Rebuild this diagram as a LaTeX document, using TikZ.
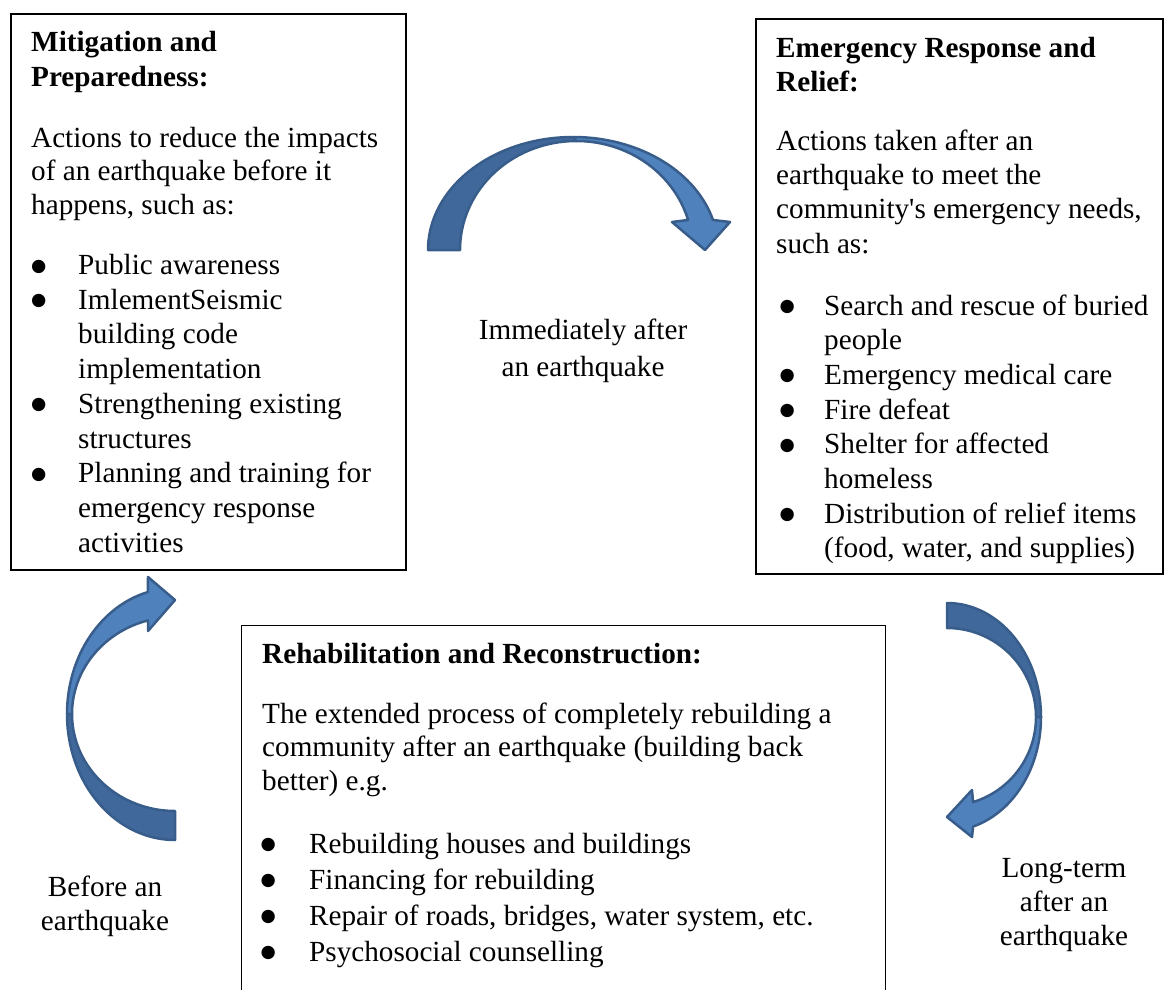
\documentclass[tikz,border=0pt]{standalone}
\usepackage{fontspec}
\setmainfont{Liberation Serif}[Ligatures=TeXOff]
\newfontfamily\bulfont{DejaVu Sans}
\definecolor{arrfront}{HTML}{4F81BD}
\definecolor{arrback}{HTML}{41689B}
\definecolor{arrline}{HTML}{385D8A}
\begin{document}
\begin{tikzpicture}[x=1pt,y=-1pt,
  txt/.style={font=\fontsize{29.2}{34}\selectfont, inner sep=0pt, anchor=base west},
  hd/.style={inner sep=0pt, anchor=base west, font=\fontsize{29.2}{34}\selectfont\bfseries},
  bul/.style={inner sep=0pt, anchor=base west, yshift=3.5pt, font=\bulfont\fontsize{17.5}{20}\selectfont},
  lbl/.style={font=\fontsize{29.2}{34}\selectfont, inner sep=0pt, anchor=base},
  boxthick/.style={draw=black, line width=2pt, inner sep=0pt, anchor=north west},
  boxthin/.style={draw=black, line width=1.1pt, inner sep=0pt, anchor=north west},
  backband/.style={fill=arrback, draw=arrline, line width=2.5pt, line join=round},
  frontband/.style={fill=arrfront, draw=arrline, line width=2.5pt, line join=round}]
\useasboundingbox (0,0) rectangle (1164,990);
\clip (0,0) rectangle (1164,990);

% ---------- boxes ----------
\node[boxthick, minimum width=395pt, minimum height=556pt] (mitbox) at (10,13) {};
\node[boxthick, minimum width=407pt, minimum height=555pt] (embox) at (755,18) {};
\node[boxthin, minimum width=644pt, minimum height=400pt] (rehbox) at (241,625) {};

% ---------- box 1 ----------
\node[hd] (m1) at (31,52) {Mitigation and};
\node[hd] (m2) at (31,86) {Preparedness:};
\node[txt] (m3) at (31,147) {Actions to reduce the impacts};
\node[txt] (m4) at (31,180.5) {of an earthquake before it};
\node[txt] (m5) at (31,214) {happens, such as:};
\node[bul] (mb1) at (31,274.5) {●};
\node[txt] (mt1) at (78,274.5) {Public awareness};
\node[bul] (mb2) at (31,309.2) {●};
\node[txt] (mt2) at (78,309.2) {ImlementSeismic};
\node[txt] (mt3) at (78,343.9) {building code};
\node[txt] (mt4) at (78,378.6) {implementation};
\node[bul] (mb3) at (31,413.3) {●};
\node[txt] (mt5) at (78,413.3) {Strengthening existing};
\node[txt] (mt6) at (78,448) {structures};
\node[bul] (mb4) at (31,482.7) {●};
\node[txt] (mt7) at (78,482.7) {Planning and training for};
\node[txt] (mt8) at (78,517.4) {emergency response};
\node[txt] (mt9) at (78,552.1) {activities};

% ---------- box 2 ----------
\node[hd] (e1) at (776,57.5) {Emergency Response and};
\node[hd] (e2) at (776,91.5) {Relief:};
\node[txt] (e3) at (776,150) {Actions taken after an};
\node[txt] (e4) at (776,184.3) {earthquake to meet the};
\node[txt] (e5) at (776,218.6) {community's emergency needs,};
\node[txt] (e6) at (776,253) {such as:};
\node[bul] (eb1) at (779.5,315) {●};
\node[txt] (et1) at (824,315) {Search and rescue of buried};
\node[txt] (et2) at (824,349.7) {people};
\node[bul] (eb2) at (779.5,384.4) {●};
\node[txt] (et3) at (824,384.4) {Emergency medical care};
\node[bul] (eb3) at (779.5,419.1) {●};
\node[txt] (et4) at (824,419.1) {Fire defeat};
\node[bul] (eb4) at (779.5,453.8) {●};
\node[txt] (et5) at (824,453.8) {Shelter for affected};
\node[txt] (et6) at (824,488.5) {homeless};
\node[bul] (eb5) at (779.5,523.2) {●};
\node[txt] (et7) at (824,523.2) {Distribution of relief items};
\node[txt] (et8) at (824,557.9) {(food, water, and supplies)};

% ---------- box 3 ----------
\node[hd] (r1) at (262,663) {Rehabilitation and Reconstruction:};
\node[txt] (r2) at (262,723) {The extended process of completely rebuilding a};
\node[txt] (r3) at (262,756.5) {community after an earthquake (building back};
\node[txt] (r4) at (262,790) {better) e.g.};
\node[bul] (rb1) at (260.5,853) {●};
\node[txt] (rt1) at (309,853) {Rebuilding houses and buildings};
\node[bul] (rb2) at (260.5,889) {●};
\node[txt] (rt2) at (309,889) {Financing for rebuilding};
\node[bul] (rb3) at (260.5,925) {●};
\node[txt] (rt3) at (309,925) {Repair of roads, bridges, water system, etc.};
\node[bul] (rb4) at (260.5,961) {●};
\node[txt] (rt4) at (309,961) {Psychosocial counselling};

% ---------- labels ----------
\node[lbl] (i1) at (583,339) {Immediately after};
\node[lbl] (i2) at (583,376) {an earthquake};
\node[lbl] (b1) at (105,896) {Before an};
\node[lbl] (b2) at (105,930) {earthquake};
\node[lbl] (l1) at (1064,877) {Long-term};
\node[lbl] (l2) at (1064,911) {after an};
\node[lbl] (l3) at (1064,945) {earthquake};

% ---------- top arrow (curved down) ----------
\path[backband] plot[domain=180:270,samples=40] ({573.1+145.1*cos(\x)},{250+113*sin(\x)})
  -- plot[domain=270:180,samples=40] ({576.3+116.3*cos(\x)},{250+109*sin(\x)}) -- cycle;
\path[frontband] plot[domain=270:344.6,samples=40] ({573.1+145.1*cos(\x)},{250+113*sin(\x)})
  -- (730,222) -- (705,250) -- (672,222)
  -- plot[domain=344:270,samples=40] ({576.3+116.3*cos(\x)},{250+109*sin(\x)}) -- cycle;

% ---------- left arrow (curved right) ----------
\path[backband] plot[domain=90:180,samples=40] ({175+108*cos(\x)},{714+126*sin(\x)})
  -- plot[domain=180:90,samples=40] ({175+103*cos(\x)},{714+97*sin(\x)}) -- cycle;
\path[frontband] plot[domain=180:255.5,samples=40] ({175+108*cos(\x)},{714+126*sin(\x)})
  -- (148,577) -- (175,600) -- (148,631)
  -- plot[domain=254.8:180,samples=40] ({175+103*cos(\x)},{714+97*sin(\x)}) -- cycle;

% ---------- right arrow (curved left) ----------
\path[backband] plot[domain=-90:0,samples=40] ({947+94*cos(\x)},{717+114*sin(\x)})
  -- plot[domain=0:-90,samples=40] ({947+89*cos(\x)},{717+89*sin(\x)}) -- cycle;
\path[frontband] plot[domain=0:73.9,samples=40] ({947+94*cos(\x)},{717+114*sin(\x)})
  -- (972,837) -- (947,817) -- (972,790)
  -- plot[domain=73:0,samples=40] ({947+89*cos(\x)},{717+89*sin(\x)}) -- cycle;
\end{tikzpicture}
\end{document}
